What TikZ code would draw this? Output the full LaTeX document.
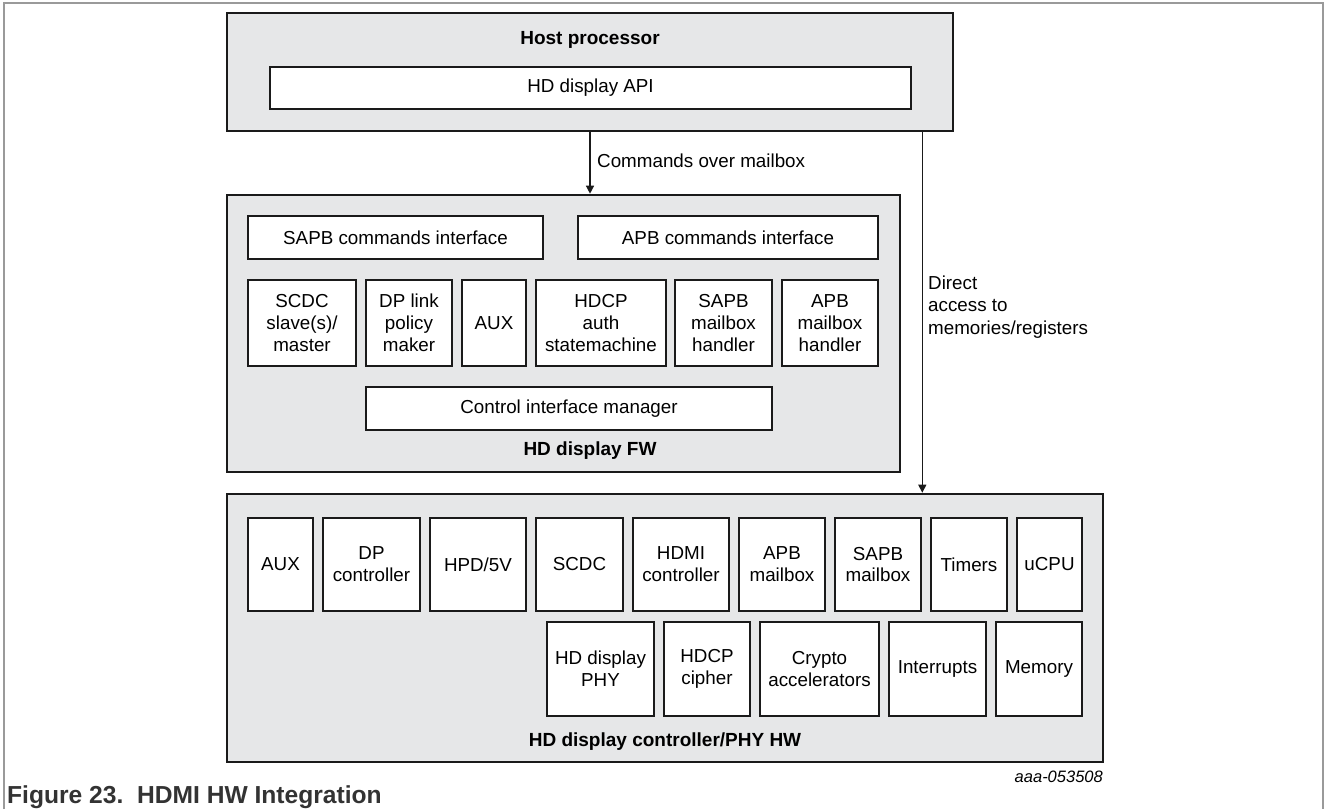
\documentclass[tikz,border=0pt]{standalone}
\usepackage{fontspec}
\setmainfont{Liberation Sans}
\usetikzlibrary{arrows.meta}
\definecolor{ink}{HTML}{1A1A1A}
\definecolor{panel}{HTML}{E6E7E8}
\definecolor{framegray}{HTML}{9A9A9A}
\definecolor{captext}{HTML}{333333}
\newcommand{\boxfont}{\fontsize{18.8}{21.8}\selectfont}
\newcommand{\headfont}{\fontsize{19}{22}\selectfont\bfseries}
\tikzset{
  panelbox/.style={draw=ink, line width=2.6pt, fill=panel, inner sep=0pt},
  blockbox/.style={draw=ink, line width=2.4pt, fill=white, inner sep=0pt,
                   align=center, font=\boxfont},
  heading/.style={font=\headfont, inner sep=0pt},
  plain/.style={font=\boxfont, inner sep=0pt, align=left},
  link/.style={draw=ink, line width=1.3pt, -{Triangle[length=8pt,width=8pt]}}
}
\begin{document}
\begin{tikzpicture}[x=1pt, y=-1pt]
\useasboundingbox (0,0) rectangle (1328,809);
% outer frame (open at the bottom)
\draw[framegray, line width=1.4pt] (4,809) -- (4,3) -- (1323,3) -- (1323,809);

% ---- host processor ----
\node[panelbox, minimum width=726pt, minimum height=118pt] (host) at (590,72) {};
\node[heading] (hostlbl) at (590,40) {Host processor};
\node[blockbox, minimum width=641pt, minimum height=42pt] (api) at (590.5,88) {HD display API};

% ---- firmware ----
\node[panelbox, minimum width=673pt, minimum height=277pt] (fw) at (563.5,333.5) {};
\node[blockbox, minimum width=295pt, minimum height=43pt] (sapbcmd) at (395.5,237.5) {SAPB commands interface};
\node[blockbox, minimum width=300pt, minimum height=43pt] (apbcmd) at (728,237.5) {APB commands interface};
\node[blockbox, minimum width=108pt, minimum height=86pt] (scdcfw) at (302,323) {SCDC\\slave(s)/\\master};
\node[blockbox, minimum width=86pt, minimum height=86pt] (dplink) at (409,323) {DP link\\policy\\maker};
\node[blockbox, minimum width=64pt, minimum height=86pt] (auxfw) at (494,323) {AUX};
\node[blockbox, minimum width=130pt, minimum height=86pt] (hdcpsm) at (601,323) {HDCP\\auth\\statemachine};
\node[blockbox, minimum width=97pt, minimum height=86pt] (sapbh) at (723.5,323) {SAPB\\mailbox\\handler};
\node[blockbox, minimum width=96pt, minimum height=86pt] (apbh) at (830,323) {APB\\mailbox\\handler};
\node[blockbox, minimum width=406pt, minimum height=43pt] (cim) at (569,408.5) {Control interface manager};
\node[heading] (fwlbl) at (590,451) {HD display FW};

% ---- hardware ----
\node[panelbox, minimum width=876pt, minimum height=268pt] (hw) at (665,628) {};
\node[blockbox, minimum width=65pt, minimum height=93pt] (auxhw) at (280.5,564.5) {AUX};
\node[blockbox, minimum width=97pt, minimum height=93pt] (dpc) at (371.5,564.5) {DP\\controller};
\node[blockbox, minimum width=96pt, minimum height=93pt] (hpd) at (478,564.5) {HPD/5V};
\node[blockbox, minimum width=87pt, minimum height=93pt] (scdchw) at (579.5,564.5) {SCDC};
\node[blockbox, minimum width=96pt, minimum height=93pt] (hdmic) at (681,564.5) {HDMI\\controller};
\node[blockbox, minimum width=86pt, minimum height=93pt] (apbmb) at (782,564.5) {APB\\mailbox};
\node[blockbox, minimum width=86pt, minimum height=93pt] (sapbmb) at (878,564.5) {SAPB\\mailbox};
\node[blockbox, minimum width=76pt, minimum height=93pt] (timers) at (969,564.5) {Timers};
\node[blockbox, minimum width=65pt, minimum height=93pt] (ucpu) at (1049.5,564.5) {uCPU};
\node[blockbox, minimum width=107pt, minimum height=94pt] (phy) at (600.5,669) {HD display\\PHY};
\node[blockbox, minimum width=86pt, minimum height=94pt] (cipher) at (707,669) {HDCP\\cipher};
\node[blockbox, minimum width=119pt, minimum height=94pt] (crypto) at (819.5,669) {Crypto\\accelerators};
\node[blockbox, minimum width=97pt, minimum height=94pt] (irq) at (937.5,669) {Interrupts};
\node[blockbox, minimum width=86pt, minimum height=94pt] (mem) at (1039,669) {Memory};
\node[heading] (hwlbl) at (665,742) {HD display controller/PHY HW};

% ---- connectors ----
\draw[link] (host.south) -- (host.south |- fw.north);
\coordinate (tap) at ([xshift=-32pt]host.south east);
\draw[link] (tap) -- (tap |- hw.north);
\node[plain, anchor=west] (cmdlbl) at (597,161) {Commands over mailbox};
\node[plain, anchor=west, font=\fontsize{18.8}{22.5}\selectfont] (directlbl) at (928,307) {Direct\\access to\\memories/registers};

% ---- figure id and caption ----
\node[inner sep=0pt, anchor=east, font=\fontsize{16.5}{19}\selectfont\itshape] (figid) at (1103,777) {aaa-053508};
\node[inner sep=0pt, anchor=west, text=captext, font=\fontsize{24.6}{28}\selectfont\bfseries] (caption) at (7,797) {Figure 23.\ \ HDMI HW Integration};
\end{tikzpicture}
\end{document}
